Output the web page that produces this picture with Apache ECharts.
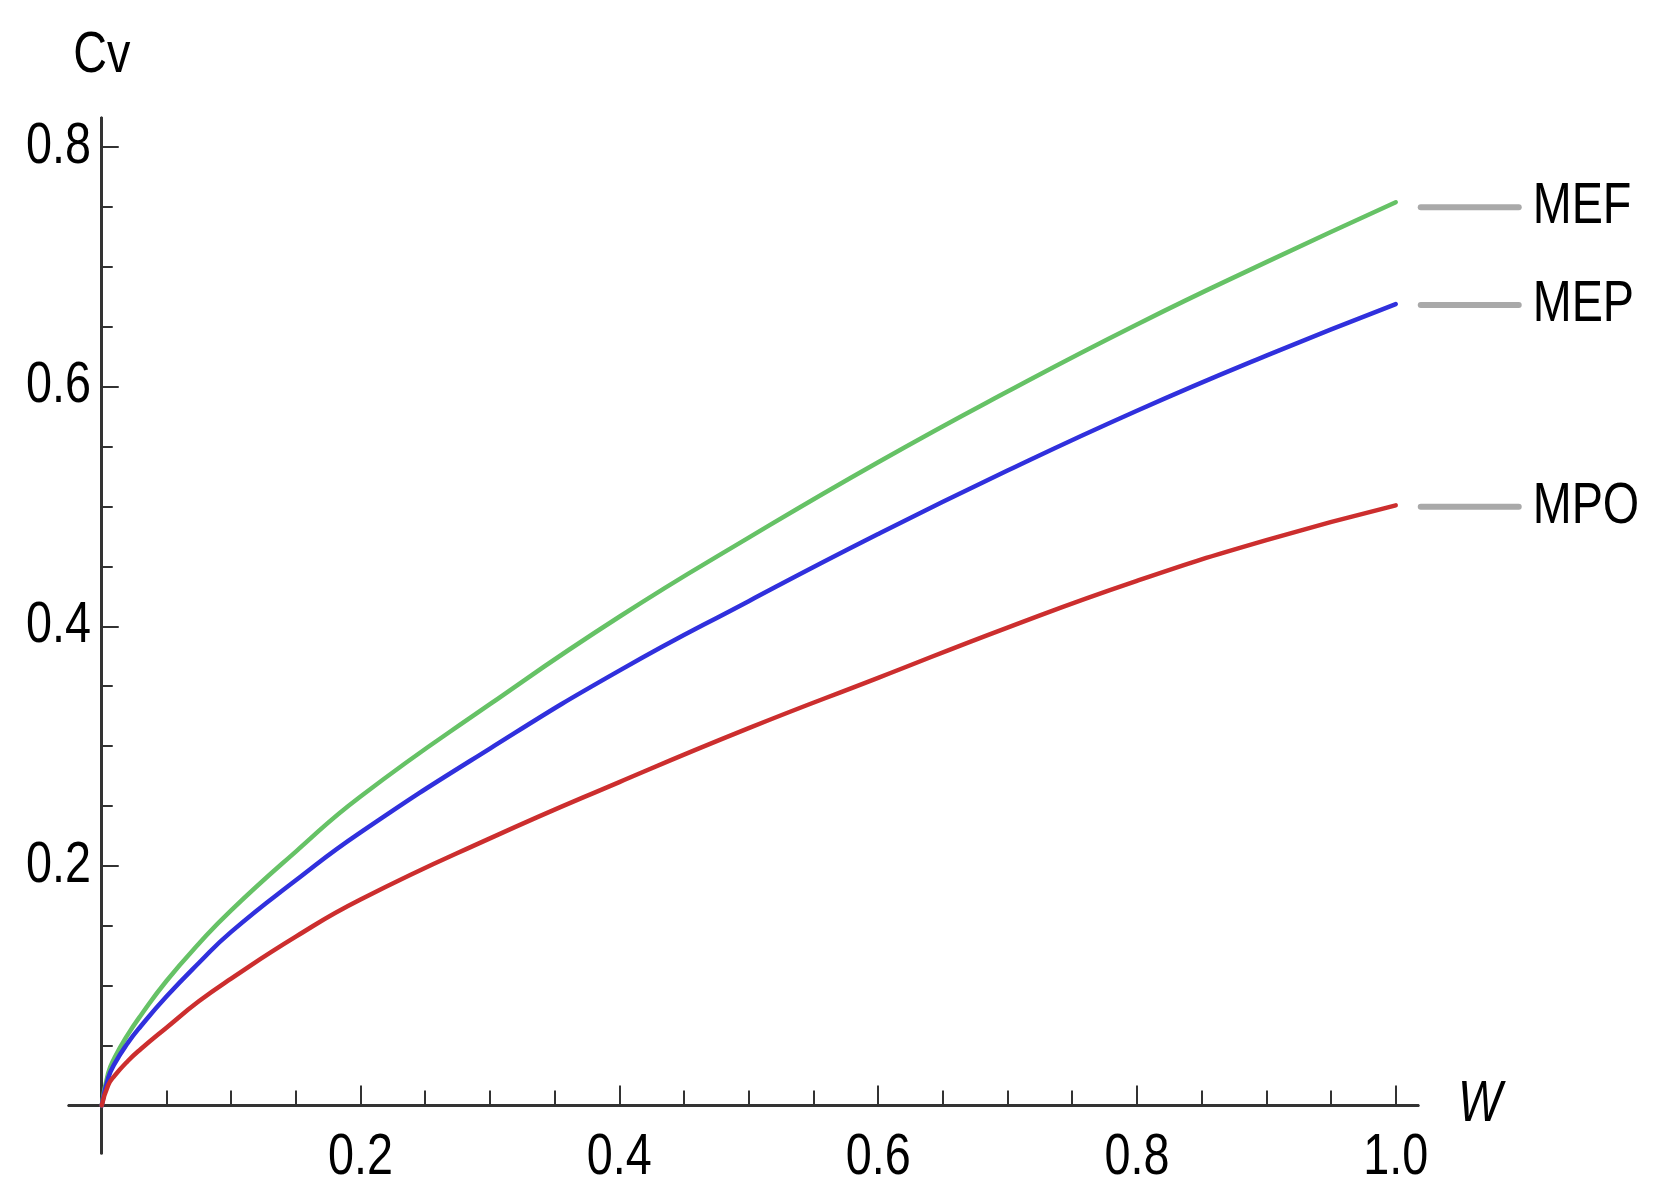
<!DOCTYPE html>
<html>
<head>
<meta charset="utf-8">
<script src="https://cdn.jsdelivr.net/npm/echarts@6/dist/echarts.min.js"></script>
<style>
html,body{margin:0;padding:0;background:#fff;}
#chart{width:1659px;height:1198px;}
</style>
</head>
<body>
<div id="chart"></div>
<script>
// Data
const W   = [0, 0.005, 0.01, 0.02, 0.03, 0.05, 0.075, 0.1, 0.15, 0.2, 0.3, 0.4, 0.5, 0.6, 0.7, 0.8, 0.9, 1.0];
const MEF = [0, 0.027, 0.040, 0.059, 0.075, 0.104, 0.135, 0.163, 0.212, 0.258, 0.335, 0.408, 0.474, 0.537, 0.596, 0.652, 0.704, 0.754];
const MEP = [0, 0.023, 0.035, 0.052, 0.066, 0.091, 0.119, 0.145, 0.188, 0.228, 0.298, 0.363, 0.421, 0.477, 0.530, 0.580, 0.626, 0.669];
const MPO = [0, 0.017, 0.025, 0.037, 0.047, 0.065, 0.087, 0.106, 0.141, 0.172, 0.223, 0.270, 0.315, 0.357, 0.399, 0.438, 0.472, 0.501];
const seriesNames = ['MEF', 'MEP', 'MPO'];
const xMajorTicks = [0.2, 0.4, 0.6, 0.8, 1.0];
const xMinorTicks = [0.05, 0.1, 0.15, 0.25, 0.3, 0.35, 0.45, 0.5, 0.55, 0.65, 0.7, 0.75, 0.85, 0.9, 0.95];
const yMajorTicks = [0.2, 0.4, 0.6, 0.8];
const yMinorTicks = [0.05, 0.1, 0.15, 0.25, 0.3, 0.35, 0.45, 0.5, 0.55, 0.65, 0.7, 0.75];

// Narrow (condensed) text look: draw glyphs horizontally compressed around their anchor.
(function () {
  const proto = CanvasRenderingContext2D.prototype;
  const orig = proto.fillText;
  proto.fillText = function (t, x, y, maxW) {
    this.save();
    this.translate(x, y);
    this.scale(0.82, 1);
    if (maxW === undefined) orig.call(this, t, 0, 0); else orig.call(this, t, 0, 0, maxW / 0.82);
    this.restore();
  };
})();

const FONT = '"Liberation Sans", Arial, sans-serif';
const AXIS_COLOR = '#333';
const colors = ['#66c266', '#3030dd', '#cc2e2e'];
const labelOffsets = [[0, 5], [0, 1], [0, 1.5]];

const xMin = -0.0253, xMax = 1.0172, yMin = -0.0396, yMax = 0.8243;

function pairs(ys) { return W.map((w, i) => [w, ys[i]]); }

const chart = echarts.init(document.getElementById('chart'), null, {renderer: 'canvas'});

const axisLineStyle = {show: true, onZero: true, lineStyle: {color: AXIS_COLOR, width: 3}};

const option = {
  backgroundColor: '#fff',
  animation: false,
  grid: {left: 69, top: 118, width: 1349, height: 1035, containLabel: false, outerBoundsMode: 'none'},
  xAxis: [
    {
      type: 'value', min: xMin, max: xMax, position: 'bottom',
      axisLine: axisLineStyle,
      axisTick: {show: true, inside: true, length: 20, customValues: xMajorTicks, lineStyle: {color: AXIS_COLOR, width: 2}},
      axisLabel: {show: true, customValues: xMajorTicks, formatter: v => v.toFixed(1), fontSize: 57, fontFamily: FONT, color: '#000', margin: -23},
      splitLine: {show: false},
      name: 'W', nameLocation: 'end', nameGap: 40,
      nameTextStyle: {fontSize: 57, fontFamily: FONT, fontStyle: 'italic', color: '#000', verticalAlign: 'middle'}
    },
    {
      type: 'value', min: xMin, max: xMax, position: 'bottom',
      axisLine: axisLineStyle,
      axisTick: {show: true, inside: true, length: 15, customValues: xMinorTicks, lineStyle: {color: AXIS_COLOR, width: 2}},
      axisLabel: {show: false},
      splitLine: {show: false}
    }
  ],
  yAxis: [
    {
      type: 'value', min: yMin, max: yMax, position: 'left',
      axisLine: axisLineStyle,
      axisTick: {show: true, inside: true, length: 17, customValues: yMajorTicks, lineStyle: {color: AXIS_COLOR, width: 2}},
      axisLabel: {show: true, customValues: yMajorTicks, formatter: v => v.toFixed(1), fontSize: 57, fontFamily: FONT, color: '#000', margin: -22},
      splitLine: {show: false},
      name: 'Cv', nameLocation: 'end', nameGap: 33,
      nameTextStyle: {fontSize: 57, fontFamily: FONT, color: '#000', align: 'center'}
    },
    {
      type: 'value', min: yMin, max: yMax, position: 'left',
      axisLine: axisLineStyle,
      axisTick: {show: true, inside: true, length: 11, customValues: yMinorTicks, lineStyle: {color: AXIS_COLOR, width: 2}},
      axisLabel: {show: false},
      splitLine: {show: false}
    }
  ],
  series: [MEF, MEP, MPO].map((vals, i) => ({
    name: seriesNames[i],
    type: 'line',
    xAxisIndex: 0, yAxisIndex: 0,
    data: pairs(vals),
    smooth: 0.5,
    showSymbol: false,
    lineStyle: {color: colors[i], width: 4.5, cap: 'round'},
    endLabel: {
      show: true,
      distance: 22,
      offset: labelOffsets[i],
      formatter: '{l|}{n|' + seriesNames[i] + '}',
      rich: {
        l: {width: 104, height: 6, backgroundColor: '#a9a9a9', borderRadius: 3, verticalAlign: 'middle'},
        n: {fontSize: 57, fontFamily: FONT, color: '#000', padding: [0, 0, 0, 11], verticalAlign: 'middle'}
      }
    }
  }))
};

chart.setOption(option);
</script>
</body>
</html>
